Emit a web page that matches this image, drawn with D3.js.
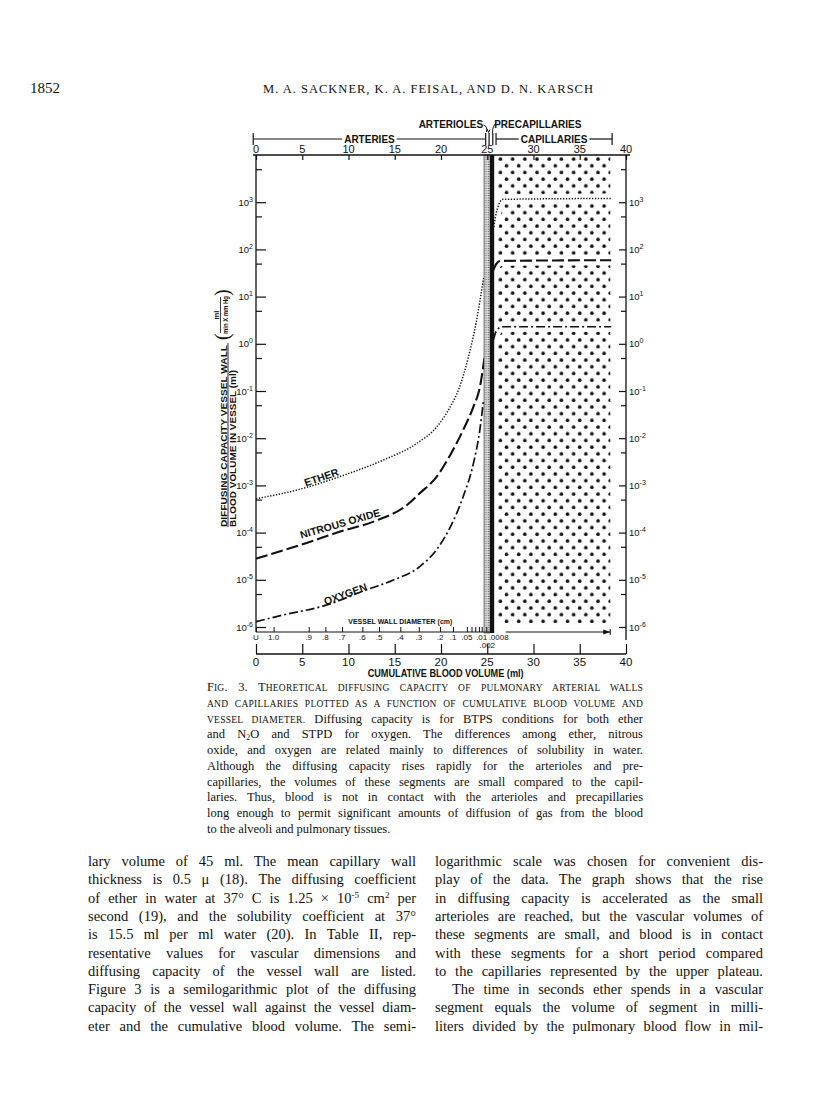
<!DOCTYPE html>
<html>
<head>
<meta charset="utf-8">
<script src="https://cdn.jsdelivr.net/npm/d3@7"></script>
<style>
body { margin: 0; background: #fff; }
svg { display: block; }
.serif { font-family: "Liberation Serif", "DejaVu Serif", serif; fill: #111; white-space: pre; }
.lett { font-family: "Liberation Sans Narrow", "Liberation Sans", "DejaVu Sans", sans-serif; font-weight: bold; fill: #111; }
</style>
</head>
<body>
<svg id="page" width="816" height="1109"></svg>
<script>
// ---- data ----
var volumeTicks = [0, 5, 10, 15, 20, 25, 30, 35, 40];
var decadeTicks = [1e-6, 1e-5, 1e-4, 1e-3, 1e-2, 1e-1, 1e0, 1e1, 1e2, 1e3];
var decadeExp = ["-6", "-5", "-4", "-3", "-2", "-1", "0", "1", "2", "3"];
var halfTicks = [5e-6, 5e-5, 5e-4, 5e-3, 5e-2, 5e-1, 5e0, 5e1, 5e2, 5e3];

// vessel wall diameter (cm) vs cumulative volume (ml)
var diamVol = [0, 1.9, 5.7, 7.5, 9.3, 11.5, 13.3, 15.6, 17.6, 19.9, 21.3, 22.8, 23.3, 23.7, 24.1, 24.4, 24.9];
var diamLabel = ["U", "1.0", ".9", ".8", ".7", ".6", ".5", ".4", ".3", ".2", ".1", ".05", "", "", "", ".01", ""];

// segments
var segName = ["ARTERIES", "CAPILLARIES"];
var segFrom = [-0.3, 25.95];
var segTo = [24.83, 38.5];
var dividerVol = [25.2, 25.6];
var arteriolesVol = [24.65, 25.3];
var precapVol = [25.3, 25.75];
var capVol = [26.1, 38.3];

// diffusing capacity / blood volume
var etherVol = [0, 5.5, 8.9, 13.7, 17.4, 19.5, 21.0, 22.0, 23.0, 23.8, 24.6];
var etherDL = [5.2e-4, 9.1e-4, 1.5e-3, 3.4e-3, 7.8e-3, 1.7e-2, 4.6e-2, 0.12, 0.56, 2.8, 25];
var etherCapVol = [25.7, 26.05, 26.7, 38.4];
var etherCapDL = [300, 680, 1150, 1200];

var n2oVol = [0, 5.3, 9.1, 13.0, 16.3, 17.7, 19.5, 21.0, 22.4, 23.5, 24.2, 24.7];
var n2oDL = [2.8e-5, 5.9e-5, 1.05e-4, 1.8e-4, 3.8e-4, 6.8e-4, 1.5e-3, 4.4e-3, 1.5e-2, 4.6e-2, 0.12, 0.5];
var n2oCapVol = [25.65, 26.0, 26.4, 38.4];
var n2oCapDL = [36, 50, 57, 59];

var o2Vol = [0, 2.95, 7.6, 11.8, 14.8, 17.7, 19.5, 21.0, 22.4, 23.5, 24.2, 24.6];
var o2DL = [1.3e-6, 1.8e-6, 2.9e-6, 6.0e-6, 9.8e-6, 1.9e-5, 4.3e-5, 1.3e-4, 5.8e-4, 2.9e-3, 1.5e-2, 6.5e-2];
var o2CapVol = [25.65, 25.95, 26.55, 38.4];
var o2CapDL = [1.2, 1.8, 2.3, 2.3];

// ---- page text ----
var captionLines = [
	[{t: "F"}, {t: "IG", sc: 1}, {t: ". 3. T"}, {t: "HEORETICAL DIFFUSING CAPACITY OF PULMONARY ARTERIAL WALLS", sc: 1}],
	[{t: "AND CAPILLARIES PLOTTED AS A FUNCTION OF CUMULATIVE BLOOD VOLUME AND", sc: 1}],
	[{t: "VESSEL DIAMETER.", sc: 1}, {t: " Diffusing capacity is for BTPS conditions for both ether"}],
	[{t: "and N"}, {t: "2", sub: 1}, {t: "O and STPD for oxygen. The differences among ether, nitrous"}],
	[{t: "oxide, and oxygen are related mainly to differences of solubility in water."}],
	[{t: "Although the diffusing capacity rises rapidly for the arterioles and pre-"}],
	[{t: "capillaries, the volumes of these segments are small compared to the capil-"}],
	[{t: "laries. Thus, blood is not in contact with the arterioles and precapillaries"}],
	[{t: "long enough to permit significant amounts of diffusion of gas from the blood"}],
	[{t: "to the alveoli and pulmonary tissues.", last: 1}]
];
var leftCol = [
	[{t: "lary volume of 45 ml. The mean capillary wall"}],
	[{t: "thickness is 0.5 \u03bc (18). The diffusing coefficient"}],
	[{t: "of ether in water at 37\u00b0 C is 1.25 \u00d7 10"}, {t: "-5", sup: 1}, {t: " cm"}, {t: "2", sup: 1}, {t: " per"}],
	[{t: "second (19), and the solubility coefficient at 37\u00b0"}],
	[{t: "is 15.5 ml per ml water (20). In Table II, rep-"}],
	[{t: "resentative values for vascular dimensions and"}],
	[{t: "diffusing capacity of the vessel wall are listed."}],
	[{t: "Figure 3 is a semilogarithmic plot of the diffusing"}],
	[{t: "capacity of the vessel wall against the vessel diam-"}],
	[{t: "eter and the cumulative blood volume. The semi-"}]
];
var rightCol = [
	[{t: "logarithmic scale was chosen for convenient dis-"}],
	[{t: "play of the data. The graph shows that the rise"}],
	[{t: "in diffusing capacity is accelerated as the small"}],
	[{t: "arterioles are reached, but the vascular volumes of"}],
	[{t: "these segments are small, and blood is in contact"}],
	[{t: "with these segments for a short period compared"}],
	[{t: "to the capillaries represented by the upper plateau."}],
	[{t: "The time in seconds ether spends in a vascular", indent: 1}],
	[{t: "segment equals the volume of segment in milli-"}],
	[{t: "liters divided by the pulmonary blood flow in mil-"}]
];

var svg = d3.select("#page");
svg.append("rect").attr("width", 816).attr("height", 1109).attr("fill", "#fff");

// scales
var x = d3.scaleLinear().domain([0, 40]).range([256, 626]);
var y = d3.scaleLog().domain([1e-6, 1e4]).range([627, 155]);
var topY = y(1e4), diamY = 632, volY = 654;

var defs = svg.append("defs");
var dots = defs.append("pattern").attr("id", "dots").attr("patternUnits", "userSpaceOnUse")
	.attr("x", x(capVol[0])).attr("y", topY + 1).attr("width", 12.2).attr("height", 13.4);
dots.append("circle").attr("cx", 3).attr("cy", 3).attr("r", 1.8).attr("fill", "#111");
dots.append("circle").attr("cx", 9.1).attr("cy", 9.7).attr("r", 1.8).attr("fill", "#111");
var stip = defs.append("pattern").attr("id", "stip").attr("patternUnits", "userSpaceOnUse")
	.attr("width", 2.4).attr("height", 2.4);
stip.append("rect").attr("width", 2.4).attr("height", 2.4).attr("fill", "#d4d4d4");
stip.append("circle").attr("cx", 1.2).attr("cy", 1.2).attr("r", 0.6).attr("fill", "#666");

function justify(sel, width) {
	var w = sel.node().getComputedTextLength();
	var n = (sel.text().match(/ /g) || []).length;
	if (n > 0) sel.style("word-spacing", ((width - w) / n) + "px");
}
function writeLines(lines, x0, y0, width, lh, size) {
	lines.forEach(function(parts, i) {
		var ind = parts[0].indent ? 17 : 0;
		var t = svg.append("text").attr("class", "serif").attr("x", x0 + ind).attr("y", y0 + i * lh)
			.style("font-size", size + "px");
		parts.forEach(function(p) {
			var ts = t.append("tspan").text(p.t);
			// small capitals: capitals set at a smaller size
			if (p.sc) ts.style("font-size", (size * 0.76) + "px").style("letter-spacing", "0.25px");
			if (p.sub) ts.attr("baseline-shift", "-1.5px").style("font-size", "62%");
			if (p.sup) ts.attr("baseline-shift", "super").style("font-size", "62%");
		});
		if (!parts[parts.length - 1].last) justify(t, width - ind);
	});
}

// header
svg.append("text").attr("class", "serif").attr("x", 30).attr("y", 93).style("font-size", "15px").text("1852");
svg.append("text").attr("class", "serif").attr("x", 263).attr("y", 93).style("font-size", "12.5px")
	.attr("textLength", 330).attr("lengthAdjust", "spacing")
	.text("M. A. SACKNER, K. A. FEISAL, AND D. N. KARSCH");

// ---- chart ----
// capillary dot field
svg.append("rect").attr("x", x(capVol[0])).attr("y", topY + 1)
	.attr("width", x(capVol[1]) - x(capVol[0])).attr("height", 623 - topY - 1)
	.attr("fill", "url(#dots)");

var line = d3.line().x(function(d) { return x(d[0]); }).y(function(d) { return y(d[1]); })
	.curve(d3.curveMonotoneX);
function zip(a, b) { return a.map(function(v, i) { return [v, b[i]]; }); }

var gases = [
	{name: "ETHER", art: zip(etherVol, etherDL), cap: zip(etherCapVol, etherCapDL), dash: "1.3,1.6", w: 1.5},
	{name: "NITROUS OXIDE", art: zip(n2oVol, n2oDL), cap: zip(n2oCapVol, n2oCapDL), dash: "12,4", w: 2.1},
	{name: "OXYGEN", art: zip(o2Vol, o2DL), cap: zip(o2CapVol, o2CapDL), dash: "9,3,2,3", w: 1.7}
];

// white halos clearing the dots round the plateaus
gases.forEach(function(g) {
	svg.append("path").attr("d", line(g.cap)).attr("fill", "none")
		.attr("stroke", "#fff").attr("stroke-width", 10);
});

// arterial curves
gases.forEach(function(g) {
	svg.append("path").attr("d", line(g.art)).attr("fill", "none").attr("stroke", "#111")
		.attr("stroke-width", g.w).attr("stroke-dasharray", g.dash);
});

// arterioles (stippled) and precapillaries (black)
svg.append("rect").attr("x", x(arteriolesVol[0])).attr("y", topY)
	.attr("width", x(arteriolesVol[1]) - x(arteriolesVol[0])).attr("height", diamY + 1 - topY)
	.attr("fill", "url(#stip)").attr("stroke", "#222").attr("stroke-width", 0.6);
svg.append("rect").attr("x", x(precapVol[0])).attr("y", topY)
	.attr("width", x(precapVol[1]) - x(precapVol[0])).attr("height", diamY + 1 - topY)
	.attr("fill", "#111");

// capillary plateaus
gases.forEach(function(g) {
	svg.append("path").attr("d", line(g.cap)).attr("fill", "none").attr("stroke", "#111")
		.attr("stroke-width", g.w).attr("stroke-dasharray", g.dash);
});

// curve labels
var curveLabels = [
	{t: "ETHER", v: 7.2, d: 1.25e-3, a: -19},
	{t: "NITROUS OXIDE", v: 9.2, d: 1.3e-4, a: -16},
	{t: "OXYGEN", v: 9.8, d: 4.2e-6, a: -20}
];
curveLabels.forEach(function(c) {
	svg.append("text").attr("class", "lett").attr("text-anchor", "middle")
		.attr("transform", "translate(" + x(c.v) + "," + y(c.d) + ") rotate(" + c.a + ")")
		.style("font-size", "10.5px").text(c.t);
});

// left axis
svg.append("line").attr("x1", x(0)).attr("x2", x(0)).attr("y1", topY).attr("y2", diamY)
	.attr("stroke", "#111").attr("stroke-width", 1.3);
svg.append("g").attr("transform", "translate(" + x(0) + ",0)")
	.call(d3.axisLeft(y).tickValues(decadeTicks).tickSize(-10).tickFormat(""))
	.call(function(g) { g.select(".domain").remove(); g.selectAll("line").attr("stroke", "#111").attr("stroke-width", 1.2); });
svg.append("g").attr("transform", "translate(" + x(0) + ",0)")
	.call(d3.axisLeft(y).tickValues(halfTicks).tickSize(-6).tickFormat(""))
	.call(function(g) { g.select(".domain").remove(); g.selectAll("line").attr("stroke", "#111").attr("stroke-width", 1.2); });

// right axis
svg.append("line").attr("x1", x(40)).attr("x2", x(40)).attr("y1", topY).attr("y2", 640)
	.attr("stroke", "#111").attr("stroke-width", 1.3);
svg.append("g").attr("transform", "translate(" + x(40) + ",0)")
	.call(d3.axisRight(y).tickValues(decadeTicks).tickSize(-7).tickFormat(""))
	.call(function(g) { g.select(".domain").remove(); g.selectAll("line").attr("stroke", "#111").attr("stroke-width", 1.2); });
svg.append("g").attr("transform", "translate(" + x(40) + ",0)")
	.call(d3.axisRight(y).tickValues(halfTicks).tickSize(-5).tickFormat(""))
	.call(function(g) { g.select(".domain").remove(); g.selectAll("line").attr("stroke", "#111").attr("stroke-width", 1.2); });

function powLabel(xp, anchor) {
	decadeTicks.forEach(function(d, i) {
		var t = svg.append("text").attr("class", "lett").style("font-weight", "normal")
			.attr("x", xp).attr("y", y(d) + 3.5).attr("text-anchor", anchor).style("font-size", "9.5px");
		t.append("tspan").text("10");
		t.append("tspan").attr("dy", -4).style("font-size", "7px").text(decadeExp[i]);
	});
}
powLabel(x(0) - 3, "end");
powLabel(x(40) + 3, "start");

// top volume axis
svg.append("g").attr("transform", "translate(0," + topY + ")")
	.call(d3.axisTop(x).tickValues(volumeTicks).tickSize(-5).tickFormat(""))
	.call(function(g) { g.select(".domain").attr("d", "M" + (x(0) - 3) + ",0H" + (x(40) + 4)).attr("stroke", "#111").attr("stroke-width", 1.3);
		g.selectAll("line").attr("stroke", "#111").attr("stroke-width", 1.2); });
volumeTicks.forEach(function(v) {
	svg.append("text").attr("class", "lett").style("font-weight", "normal").style("font-size", "11px")
		.attr("x", x(v)).attr("y", topY - 2).attr("text-anchor", "middle").text(v);
});

// bottom volume axis
svg.append("g").attr("transform", "translate(0," + volY + ")")
	.call(d3.axisBottom(x).tickValues(volumeTicks).tickSize(-10).tickFormat(""))
	.call(function(g) { g.select(".domain").attr("d", "M" + x(0) + ",0H" + x(40)).attr("stroke", "#111").attr("stroke-width", 1.3);
		g.selectAll("line").attr("stroke", "#111").attr("stroke-width", 1.2); });
volumeTicks.forEach(function(v) {
	svg.append("text").attr("class", "lett").style("font-weight", "normal").style("font-size", "11.5px")
		.attr("x", x(v)).attr("y", volY + 12).attr("text-anchor", "middle").text(v);
});
svg.append("text").attr("class", "lett").style("font-size", "10px").attr("x", x(20.5)).attr("y", 677)
	.attr("text-anchor", "middle").attr("textLength", 156).attr("lengthAdjust", "spacingAndGlyphs")
	.text("CUMULATIVE  BLOOD  VOLUME  (ml)");

// vessel wall diameter axis
svg.append("g").attr("transform", "translate(0," + diamY + ")")
	.call(d3.axisBottom(x).tickValues(diamVol).tickSize(-5).tickFormat(""))
	.call(function(g) { g.select(".domain").attr("d", "M" + x(0) + ",0H" + x(25.3)).attr("stroke", "#111").attr("stroke-width", 1.2);
		g.selectAll("line").attr("stroke", "#111").attr("stroke-width", 1); });
diamVol.forEach(function(v, i) {
	if (!diamLabel[i]) return;
	svg.append("text").attr("class", "lett").style("font-weight", "normal").style("font-size", "8px")
		.attr("x", x(v)).attr("y", diamY + 8).attr("text-anchor", "middle").text(diamLabel[i]);
});
svg.append("text").attr("class", "lett").style("font-weight", "normal").style("font-size", "8px")
	.attr("x", x(25.15)).attr("y", diamY + 8).text(".0008");
svg.append("text").attr("class", "lett").style("font-weight", "normal").style("font-size", "8px")
	.attr("x", x(25.0)).attr("y", diamY + 16).attr("text-anchor", "middle").text(".002");
svg.append("text").attr("class", "lett").style("font-size", "7.5px").attr("x", x(15.6)).attr("y", diamY - 8)
	.attr("text-anchor", "middle").attr("textLength", 104).attr("lengthAdjust", "spacingAndGlyphs")
	.text("VESSEL WALL DIAMETER (cm)");
// arrow to the capillaries
svg.append("line").attr("x1", x(27.0)).attr("x2", x(38.3)).attr("y1", diamY).attr("y2", diamY)
	.attr("stroke", "#111").attr("stroke-width", 1);
svg.append("path").attr("d", "M" + x(38.3) + "," + diamY + "l-7,-2.5v5z").attr("fill", "#111");
svg.append("line").attr("x1", x(38.3)).attr("x2", x(38.3)).attr("y1", diamY - 3).attr("y2", diamY + 3)
	.attr("stroke", "#111").attr("stroke-width", 1);

// segment bars above the chart
var barY = 139;
segName.forEach(function(n, i) {
	var x0 = x(segFrom[i]), x1 = x(segTo[i]);
	var t = svg.append("text").attr("class", "lett").style("font-size", "10px")
		.attr("x", (x0 + x1) / 2).attr("y", barY + 3.5).attr("text-anchor", "middle").text(n);
	var tw = t.node().getComputedTextLength();
	var g = svg.append("g").attr("stroke", "#111").attr("stroke-width", 1.2);
	g.append("line").attr("x1", x0).attr("x2", (x0 + x1) / 2 - tw / 2 - 2).attr("y1", barY).attr("y2", barY);
	g.append("line").attr("x1", (x0 + x1) / 2 + tw / 2 + 2).attr("x2", x1).attr("y1", barY).attr("y2", barY);
	g.append("line").attr("x1", x0).attr("x2", x0).attr("y1", barY - 6).attr("y2", barY + 6);
	g.append("line").attr("x1", x1).attr("x2", x1).attr("y1", barY - 6).attr("y2", barY + 6);
});
dividerVol.forEach(function(v) {
	svg.append("line").attr("x1", x(v)).attr("x2", x(v)).attr("y1", barY - 6).attr("y2", barY + 6)
		.attr("stroke", "#111").attr("stroke-width", 1.2);
});
svg.append("text").attr("class", "lett").style("font-size", "10px").attr("x", x(24.55)).attr("y", 128)
	.attr("text-anchor", "end").text("ARTERIOLES");
svg.append("text").attr("class", "lett").style("font-size", "10px").attr("x", x(25.75)).attr("y", 128)
	.text("PRECAPILLARIES");
svg.append("path").attr("d", "M" + x(24.6) + ",125 q4,1 3,7").attr("fill", "none").attr("stroke", "#111").attr("stroke-width", 1);
svg.append("path").attr("d", "M" + (x(25.2) - 2) + ",129 l1.5,3.5 l1.5,-3").attr("fill", "none").attr("stroke", "#111").attr("stroke-width", 1);
svg.append("path").attr("d", "M" + x(26.0) + ",123 q-4,2 -4,10").attr("fill", "none").attr("stroke", "#111").attr("stroke-width", 1);

// y axis title
var yt = svg.append("g").attr("transform", "translate(228,527) rotate(-90)");
yt.append("text").attr("class", "lett").style("font-size", "9px").attr("x", 0).attr("y", -1.5)
	.attr("textLength", 182).attr("lengthAdjust", "spacingAndGlyphs").text("DIFFUSING  CAPACITY  VESSEL  WALL");
yt.append("line").attr("x1", 0).attr("x2", 184).attr("y1", 0).attr("y2", 0).attr("stroke", "#111").attr("stroke-width", 0.9);
yt.append("text").attr("class", "lett").style("font-size", "9px").attr("x", 0).attr("y", 8)
	.attr("textLength", 157).attr("lengthAdjust", "spacingAndGlyphs").text("BLOOD  VOLUME  IN  VESSEL  (ml)");
yt.append("text").attr("class", "lett").style("font-size", "7.5px").attr("x", 212).attr("y", -9.5)
	.attr("text-anchor", "middle").text("ml");
yt.append("line").attr("x1", 194).attr("x2", 230).attr("y1", -7.5).attr("y2", -7.5).attr("stroke", "#111").attr("stroke-width", 0.8);
yt.append("text").attr("class", "lett").style("font-size", "7.5px").attr("x", 212).attr("y", -0.5)
	.attr("text-anchor", "middle").attr("textLength", 38).attr("lengthAdjust", "spacingAndGlyphs").text("min X mm Hg");
yt.append("text").attr("class", "serif").style("font-size", "20px").attr("x", 187).attr("y", 1).text("(");
yt.append("text").attr("class", "serif").style("font-size", "20px").attr("x", 231).attr("y", 1).text(")");

// caption and body text
writeLines(captionLines, 207, 691, 436, 15.75, 12.5);
writeLines(leftCol, 88, 866, 328, 18.3, 14.5);
writeLines(rightCol, 435, 866, 328, 18.3, 14.5);
</script>
</body>
</html>
